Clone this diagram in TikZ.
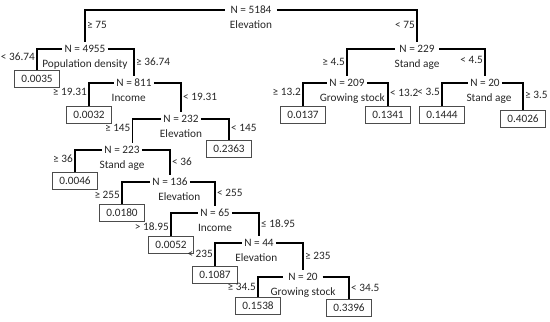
\documentclass[tikz,border=0pt]{standalone}
\usepackage{fontspec}
\setmainfont{Carlito}
\usepackage{tikz}
\usetikzlibrary{positioning}

\begin{document}
\begin{tikzpicture}[x=0.0265cm,y=-0.0265cm,
  txt/.style={font=\fontsize{8.5}{9.5}\selectfont,text=black!85,text height=5.8pt,text depth=1pt},
  split/.style={txt,inner xsep=1.5pt,inner ysep=2pt},
  var/.style={txt,inner sep=2pt},
  cond/.style={txt,inner xsep=1.2pt,inner ysep=2pt},
  leaf/.style={txt,draw=black!70,line width=0.6pt,minimum width=34.5pt,minimum height=12.5pt,inner sep=1pt},
  branch/.style={line width=0.9pt}]
\useasboundingbox (0,0) rectangle (550,322);
\node[split,inner xsep=4pt] (n0) at (251,10) {N = 5184};
\node[split] (n1) at (85,49) {N = 4955};
\node[split] (n2) at (134,83) {N = 811};
\node[split] (n3) at (181,119) {N = 232};
\node[split] (n4) at (122,150) {N = 223};
\node[split] (n5) at (170,182) {N = 136};
\node[split] (n6) at (215,213) {N = 65};
\node[split] (n7) at (259,243) {N = 44};
\node[split,inner xsep=3.5pt] (n8) at (303,277) {N = 20};
\node[split,inner xsep=3.5pt] (n9) at (417,49) {N = 229};
\node[split] (n10) at (347,83) {N = 209};
\node[split] (n11) at (485,83) {N = 20};
\node[var,below=0pt of n0] (v0) {Elevation};
\node[var,below=0pt of n1] (v1) {Population density};
\node[var,below=0pt of n2,xshift=-4pt] (v2) {Income};
\node[var,below=0pt of n3] (v3) {Elevation};
\node[var,below=0pt of n4] (v4) {Stand age};
\node[var,below=0pt of n5,xshift=7pt] (v5) {Elevation};
\node[var,below=0pt of n6] (v6) {Income};
\node[var,below=0pt of n7,xshift=-2pt] (v7) {Elevation};
\node[var,below=0pt of n8] (v8) {Growing stock};
\node[var,below=0pt of n9] (v9) {Stand age};
\node[var,below=0pt of n10,xshift=4pt] (v10) {Growing stock};
\node[var,below=0pt of n11,xshift=3pt] (v11) {Stand age};
\node[leaf] (r0) at (37,79) {0.0035};
\node[leaf] (r1) at (89,115) {0.0032};
\node[leaf] (r2) at (229,149) {0.2363};
\node[leaf] (r3) at (75,181) {0.0046};
\node[leaf] (r4) at (122,213) {0.0180};
\node[leaf] (r5) at (171,245) {0.0052};
\node[leaf] (r6) at (215,275) {0.1087};
\node[leaf] (r7) at (258,306) {0.1538};
\node[leaf] (r8) at (349,308) {0.3396};
\node[leaf] (r9) at (303,115) {0.0137};
\node[leaf] (r10) at (388,115) {0.1341};
\node[leaf] (r11) at (442,115) {0.1444};
\node[leaf] (r12) at (523,119) {0.4026};
\draw[branch] (n1.north) |- node[cond,right,pos=.25] {≥ 75} (n0.west);
\draw[branch] (n0.east) -| node[cond,left,pos=.75] {< 75} (n9.north);
\draw[branch] (r0.north) |- node[cond,left,pos=.3] {< 36.74} (n1.west);
\draw[branch] (n1.east) -| node[cond,right,pos=.75] {≥ 36.74} (n2.north);
\draw[branch] (r1.north) |- node[cond,left,pos=.3] {≥ 19.31} (n2.west);
\draw[branch] (n2.east) -| node[cond,right,pos=.75] {< 19.31} (n3.north);
\draw[branch] ([xshift=8pt]n4.north) |- node[cond,left,pos=.3] {≥ 145} (n3.west);
\draw[branch] (n3.east) -| node[cond,right,pos=.72] {< 145} (r2.north);
\draw[branch] (r3.north) |- node[cond,left,pos=.3] {≥ 36} (n4.west);
\draw[branch] (n4.east) -| node[cond,right,pos=.75] {< 36} (n5.north);
\draw[branch] (r4.north) |- node[cond,left,pos=.2] {≥ 255} (n5.west);
\draw[branch] (n5.east) -| node[cond,right,pos=.75] {< 255} (n6.north);
\draw[branch] (r5.north) |- node[cond,left,pos=.2] {> 18.95} (n6.west);
\draw[branch] (n6.east) -| node[cond,right,pos=.75] {≤ 18.95} (n7.north);
\draw[branch] (r6.north) |- node[cond,left,pos=.25] {< 235} (n7.west);
\draw[branch] (n7.east) -| node[cond,right,pos=.75] {≥ 235} (n8.north);
\draw[branch] (r7.north) |- node[cond,left,pos=.25] {≥ 34.5} (n8.west);
\draw[branch] (n8.east) -| node[cond,right,pos=.75] {< 34.5} (r8.north);
\draw[branch] (n10.north) |- node[cond,left,pos=.25] {≥ 4.5} (n9.west);
\draw[branch] (n9.east) -| node[cond,left,pos=.72] {< 4.5} (n11.north);
\draw[branch] (r9.north) |- node[cond,left,pos=.3] {≥ 13.2} (n10.west);
\draw[branch] (n10.east) -| node[cond,right,pos=.72] {< 13.2} (r10.north);
\draw[branch] (r11.north) |- node[cond,left,pos=.3] {< 3.5} (n11.west);
\draw[branch] (n11.east) -| node[cond,right,pos=.72] {≥ 3.5} (r12.north);
\end{tikzpicture}
\end{document}
